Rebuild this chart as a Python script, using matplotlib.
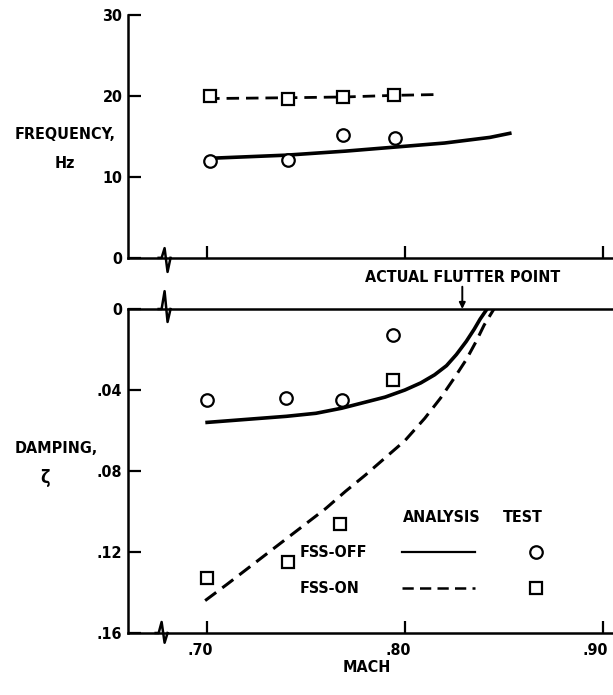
import matplotlib.pyplot as plt
import matplotlib.transforms as mtransforms
import numpy as np

# frequency panel
freq_test_off_mach = [0.7015, 0.741, 0.7685, 0.795]
freq_test_off = [12.0, 12.1, 15.2, 14.8]
freq_test_on_mach = [0.7015, 0.741, 0.7685, 0.7945]
freq_test_on = [20.0, 19.6, 19.9, 20.2]
freq_anl_off_mach = [0.70, 0.74, 0.77, 0.795, 0.82, 0.843, 0.853]
freq_anl_off = [12.3, 12.7, 13.2, 13.7, 14.2, 14.9, 15.4]
freq_anl_on_mach = [0.70, 0.74, 0.77, 0.795, 0.817]
freq_anl_on = [19.7, 19.8, 19.9, 20.1, 20.2]

# damping panel
damp_test_off_mach = [0.70, 0.740, 0.768, 0.794]
damp_test_off = [0.045, 0.044, 0.045, 0.013]
damp_test_on_mach = [0.70, 0.741, 0.767, 0.794]
damp_test_on = [0.133, 0.125, 0.106, 0.035]
damp_anl_off_mach = [0.70, 0.72, 0.74, 0.755, 0.768, 0.78, 0.79, 0.80, 0.808,
                     0.815, 0.821, 0.826, 0.831, 0.835, 0.838, 0.8415]
damp_anl_off = [0.056, 0.0545, 0.053, 0.0515, 0.049, 0.046, 0.0435, 0.040, 0.0365,
                0.0325, 0.028, 0.0225, 0.016, 0.010, 0.005, 0.0]
damp_anl_on_mach = [0.699, 0.71, 0.72, 0.73, 0.74, 0.75, 0.76, 0.77, 0.78, 0.79,
                    0.80, 0.81, 0.818, 0.825, 0.831, 0.836, 0.840, 0.845]
damp_anl_on = [0.144, 0.136, 0.1285, 0.121, 0.1135, 0.106, 0.0985, 0.090, 0.082,
               0.0735, 0.065, 0.054, 0.044, 0.034, 0.025, 0.016, 0.008, 0.0]

flutter_mach = 0.829
x_ticks = [0.70, 0.80, 0.90]
x_ticklabels = ['.70', '.80', '.90']
freq_ticks = [0, 10, 20, 30]
damp_ticks = [0, 0.04, 0.08, 0.12, 0.16]
damp_ticklabels = ['0', '.04', '.08', '.12', '.16']

plt.rcParams['font.family'] = ['DejaVu Sans']
plt.rcParams['font.stretch'] = 'condensed'
plt.rcParams['font.weight'] = 'bold'

fig = plt.figure(figsize=(6.13, 6.95), dpi=100)
ax1 = fig.add_axes([0.2088, 0.629, 0.789, 0.349])
ax2 = fig.add_axes([0.2088, 0.0892, 0.789, 0.4662])

xmin, xmax = 0.660, 0.9045
lw_line = 2.6
mk = dict(markersize=9, markerfacecolor='white', markeredgecolor='black',
          markeredgewidth=1.6, linestyle='none')
dash = (0, (4.5, 2.5))
fs = 11.5

for ax in (ax1, ax2):
    ax.set_xlim(xmin, xmax)
    ax.set_xticks(x_ticks)
    ax.spines['right'].set_visible(False)
    for s in ax.spines.values():
        s.set_linewidth(1.8)
    ax.tick_params(direction='in', length=9, width=1.6, labelsize=fs)
    ax.tick_params(axis='y', pad=4)

# top panel
ax1.spines['top'].set_visible(False)
ax1.set_ylim(0, 30)
ax1.set_yticks(freq_ticks)
ax1.set_xticklabels([])
ax1.plot(freq_anl_off_mach, freq_anl_off, color='black', lw=lw_line)
ax1.plot(freq_anl_on_mach, freq_anl_on, color='black', lw=2.0, linestyle=dash)
ax1.plot(freq_test_off_mach, freq_test_off, marker='o', **mk)
ax1.plot(freq_test_on_mach, freq_test_on, marker='s', **mk)

# bottom panel
ax2.set_ylim(0.16, 0)
ax2.set_yticks(damp_ticks)
ax2.set_yticklabels(damp_ticklabels)
ax2.set_xticklabels(x_ticklabels)
ax2.tick_params(axis='x', pad=7)
# labels sit a little left of their ticks in the original
shift = mtransforms.ScaledTranslation(-7 / 100, 0, fig.dpi_scale_trans)
for lbl in ax2.get_xticklabels():
    lbl.set_transform(lbl.get_transform() + shift)
ax2.plot(damp_anl_off_mach, damp_anl_off, color='black', lw=lw_line)
ax2.plot(damp_anl_on_mach, damp_anl_on, color='black', lw=2.2, linestyle=dash)
ax2.plot(damp_test_off_mach, damp_test_off, marker='o', **mk)
ax2.plot(damp_test_on_mach, damp_test_on, marker='s', **mk)


# axis break marks
def zigzag(ax, x0, ytop, ybot, at):
    tr = mtransforms.blended_transform_factory(ax.transData, ax.transAxes)
    xs = [x0 - 0.004, x0 - 0.0025, x0 - 0.001, x0 + 0.0005, x0 + 0.002]
    ys = [at, at, at + ytop, at - ybot, at]
    ax.plot(xs, ys, color='black', lw=1.8, transform=tr, clip_on=False)


zigzag(ax1, 0.6795, 0.04, 0.058, 0.0)
zigzag(ax2, 0.6795, 0.055, 0.04, 1.0)
zigzag(ax2, 0.678, 0.034, 0.03, 0.0)

# flutter point
ax2.annotate('', xy=(flutter_mach, 0.0), xytext=(flutter_mach, -0.011),
             arrowprops=dict(arrowstyle='-|>', color='black', lw=1.4,
                             mutation_scale=9, shrinkA=0, shrinkB=0),
             annotation_clip=False)
ax2.text(flutter_mach, -0.0155, 'ACTUAL FLUTTER POINT', ha='center', va='center',
         fontsize=fs)

# legend drawn by hand
ax2.text(0.8187, 0.103, 'ANALYSIS', ha='center', va='center', fontsize=fs)
ax2.text(0.8596, 0.103, 'TEST', ha='center', va='center', fontsize=fs)
ax2.text(0.747, 0.120, 'FSS-OFF', ha='left', va='center', fontsize=fs)
ax2.text(0.747, 0.138, 'FSS-ON', ha='left', va='center', fontsize=fs)
ax2.plot([0.7985, 0.8354], [0.120, 0.120], color='black', lw=1.6)
ax2.plot([0.7985, 0.8354], [0.138, 0.138], color='black', lw=1.8, linestyle=dash)
ax2.plot([0.8662], [0.120], marker='o', **mk)
ax2.plot([0.8662], [0.138], marker='s', **mk)

# axis titles
fig.text(0.106, 0.806, 'FREQUENCY,', ha='center', va='center', fontsize=fs)
fig.text(0.106, 0.765, 'Hz', ha='center', va='center', fontsize=fs)
fig.text(0.091, 0.355, 'DAMPING,', ha='center', va='center', fontsize=fs)
fig.text(0.073, 0.312, 'ζ', ha='center', va='center', fontsize=13)
fig.text(0.599, 0.039, 'MACH', ha='center', va='center', fontsize=fs)

fig.savefig('out.png', dpi=100)
